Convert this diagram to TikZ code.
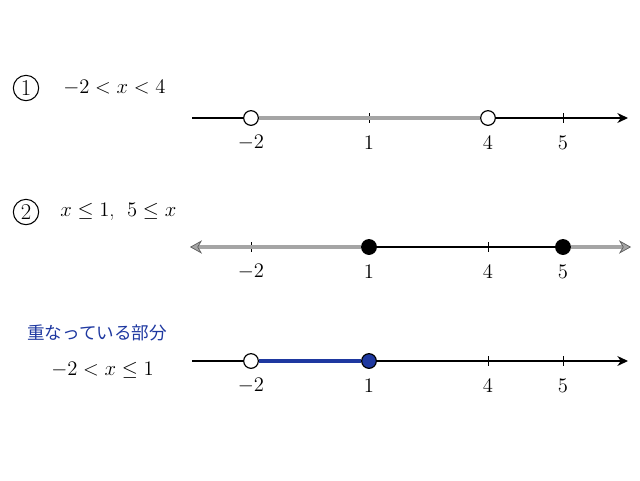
\RequirePackage{fix-cm}
\documentclass[tikz,border=0pt]{standalone}
\usepackage{amsmath,amssymb}
\usepackage{fontspec}
\newfontfamily\jpfont{Noto Sans CJK JP}
\usetikzlibrary{arrows.meta}
\definecolor{kasane}{RGB}{30,56,160}
\definecolor{haiiro}{RGB}{165,165,165}
\tikzset{
  axis/.style={line width=0.9pt,-{Stealth[length=8pt,width=7.5pt]}},
  tick/.style={line width=0.6pt},
  band/.style={line width=3pt,draw=haiiro},
  grayarrow/.style={band,-{Stealth[length=9pt,width=10pt,fill=haiiro,color=gray!70!black,line width=0.5pt]}},
  openpt/.style={circle,draw,fill=white,line width=0.9pt,inner sep=0pt,minimum size=11pt},
  fullpt/.style={circle,draw,fill=black,line width=0.9pt,inner sep=0pt,minimum size=11pt},
  numlbl/.style={font=\fontsize{15.5}{18}\selectfont,inner sep=0.75pt},
  marubango/.style={circle,draw,line width=0.8pt,inner sep=0pt,minimum size=19pt,font=\fontsize{17}{20}\selectfont},
}
\begin{document}
\begin{tikzpicture}[x=0.75pt,y=0.75pt,yscale=-1,xscale=1]
\useasboundingbox (0,0) rectangle (640,480);
\node[marubango] (m1) at (26,88) {1};
\node[numlbl,anchor=west] (ex1) at (62,88) {$-2<x<4$};
\coordinate (s1) at (192,118);
\coordinate (e1) at (628,118);
\draw[axis] (s1) -- (e1);
\draw[tick] (369,113) -- (369,123);
\draw[tick] (563,113) -- (563,123);
\node[openpt] (p1a) at (251,118) {};
\node[openpt] (p1b) at (488,118) {};
\draw[band] (p1a) -- (p1b);
\node[numlbl] (l1a) at (251,143) {$-2$};
\node[numlbl] (l1b) at (369,143) {$1$};
\node[numlbl] (l1c) at (488,143) {$4$};
\node[numlbl] (l1d) at (563,143) {$5$};

\node[marubango] (m2) at (26,212) {2};
\node[numlbl,anchor=west] (ex2) at (59,212) {$x\leq 1$,\ \ $5\leq x$};
\coordinate (s2) at (190,247);
\coordinate (e2) at (631,247);
\draw[tick] (251,242) -- (251,252);
\draw[tick] (488,242) -- (488,252);
\node[fullpt] (p2a) at (369,247) {};
\node[fullpt] (p2b) at (563,247) {};
\draw[line width=0.9pt] (p2a) -- (p2b);
\draw[grayarrow] (p2a) -- (s2);
\draw[grayarrow] (p2b) -- (e2);
\node[numlbl] (l2a) at (251,272) {$-2$};
\node[numlbl] (l2b) at (369,272) {$1$};
\node[numlbl] (l2c) at (488,272) {$4$};
\node[numlbl] (l2d) at (563,272) {$5$};

\node[anchor=west,text=kasane,font=\jpfont\fontsize{13.2}{16}\selectfont,inner sep=0pt] (kb) at (27,333) {重なっている部分};
\node[numlbl,anchor=west] (ex3) at (50,370) {$-2<x\leq 1$};
\coordinate (s3) at (192,361);
\coordinate (e3) at (628,361);
\draw[axis] (s3) -- (e3);
\draw[tick] (488,356) -- (488,366);
\draw[tick] (563,356) -- (563,366);
\node[openpt] (p3a) at (251,361) {};
\node[fullpt,fill=kasane] (p3b) at (369,361) {};
\draw[band,draw=kasane] (p3a) -- (p3b);
\node[numlbl] (l3a) at (251,386) {$-2$};
\node[numlbl] (l3b) at (369,386) {$1$};
\node[numlbl] (l3c) at (488,386) {$4$};
\node[numlbl] (l3d) at (563,386) {$5$};
\end{tikzpicture}
\end{document}
